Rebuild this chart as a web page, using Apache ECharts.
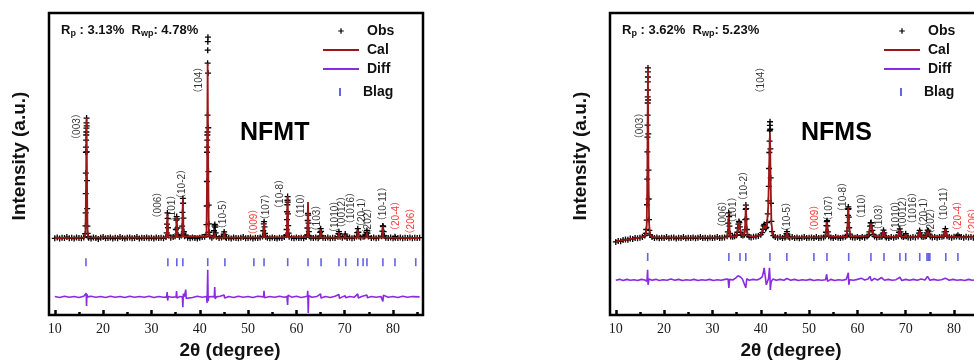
<!DOCTYPE html>
<html>
<head>
<meta charset="utf-8">
<script src="https://cdn.jsdelivr.net/npm/echarts@6/dist/echarts.min.js"></script>
<style>
  html, body { margin: 0; padding: 0; background: #fff; }
  #chart { width: 974px; height: 360px; }
</style>
</head>
<body>
<div id="chart"></div>
<script>
// ---- NFMT refinement, points are [2theta, intensity] ----
const nfmtObs = [
  [10,25.4],[10.5,25.7],[11,25.3],[11.5,25.6],[12,25.5],[12.5,25.8],[13,25.4],[13.5,25.6],[14,25.3],[14.5,25.7],[15,25.5],[15.5,25.4],[16,25.7],
  [16.3,26.9],[16.35,29.5],[16.38,33.8],[16.4,40.2],[16.42,47.0],[16.44,53.9],[16.46,55.6],[16.48,57.9],[16.5,59.6],[16.52,60.6],[16.54,61.9],[16.56,63.6],[16.58,65.2],[16.6,62.6],[16.63,54.0],[16.66,44.5],[16.7,35.2],[16.75,29.4],[16.8,27.0],[16.9,25.9],
  [17,25.6],[17.5,25.3],[18,25.7],[18.5,25.5],[19,25.2],[19.5,25.6],[20,25.8],[20.5,25.4],[21,25.5],[21.5,25.7],[22,25.3],[22.5,25.6],[23,25.4],[23.5,25.8],[24,25.5],[24.5,25.3],[25,25.6],[25.5,25.7],[26,25.4],[26.5,25.5],[27,25.8],[27.5,25.3],[28,25.6],[28.5,25.5],[29,25.7],[29.5,25.4],[30,25.6],[30.5,25.3],[31,25.7],[31.5,25.5],[32,25.6],[32.5,25.4],
  [33,25.8],[33.15,27.2],[33.22,30.1],[33.3,33.8],[33.36,32.0],[33.42,28.9],[33.55,26.4],[34,25.6],[34.5,25.8],
  [34.9,26.1],[35.05,28.3],[35.15,31.4],[35.22,32.6],[35.3,31.8],[35.38,28.8],[35.5,26.5],[35.8,25.9],
  [36.2,26.3],[36.35,29.4],[36.42,34.0],[36.5,38.6],[36.56,37.0],[36.62,32.1],[36.72,27.6],[36.85,26.1],
  [37.1,26.4],[37.5,25.6],[38,25.4],[38.5,25.7],[39,25.5],[39.5,25.3],[40,25.6],[40.5,25.8],[41,25.9],
  [41.3,26.6],[41.38,29.9],[41.44,36.1],[41.48,44.2],[41.51,53.9],[41.53,55.6],[41.55,57.9],[41.57,59.6],[41.59,60.6],[41.61,66.2],[41.63,83.4],[41.65,87.7],[41.67,90.5],[41.69,92.0],[41.72,80.1],[41.76,62.0],[41.8,47.5],[41.85,36.4],[41.9,30.2],[41.97,27.4],[42.1,26.0],[42.5,25.6],
  [42.85,26.1],[42.95,27.9],[43.05,29.5],[43.12,30.0],[43.2,29.1],[43.3,27.2],[43.45,25.9],[44,25.5],[44.5,25.7],
  [44.85,26.0],[44.95,26.8],[45.05,27.5],[45.15,26.6],[45.3,25.8],
  [45.5,25.5],[46,25.6],[46.5,25.3],[47,25.7],[47.5,25.5],[48,25.4],[48.5,25.6],[49,25.8],[49.5,25.4],[50,25.5],[50.5,25.7],[51,25.3],[51.5,25.6],[52,25.5],[52.5,25.7],
  [53.0,26.0],[53.15,27.9],[53.25,30.2],[53.32,30.9],[53.4,29.2],[53.5,27.0],[53.65,25.9],
  [54,25.6],[54.5,25.4],[55,25.7],[55.5,25.5],[56,25.3],[56.5,25.6],[57,25.5],[57.5,25.8],
  [57.9,26.4],[57.98,28.3],[58.04,31.6],[58.08,34.2],[58.12,36.5],[58.15,38.0],[58.18,39.2],[58.21,37.4],[58.25,33.5],[58.3,29.6],[58.38,27.1],[58.5,25.9],
  [59,25.6],[59.5,25.4],[60,25.7],[60.5,25.5],[61,25.6],[61.5,25.4],[62,25.8],
  [62.2,26.5],[62.28,28.8],[62.34,31.3],[62.4,33.6],[62.45,33.1],[62.5,30.4],[62.58,27.6],[62.7,26.1],
  [63,25.6],[63.5,25.5],[64,25.7],[64.5,25.4],
  [64.8,26.0],[64.92,27.4],[65.02,28.6],[65.12,27.7],[65.25,26.2],
  [65.5,25.6],[66,25.5],[66.5,25.7],[67,25.4],[67.5,25.6],[68,25.5],
  [68.6,25.9],[68.7,26.9],[68.8,27.6],[68.9,26.9],[69.05,25.9],[69.5,25.6],
  [69.95,26.0],[70.1,26.8],[70.25,26.0],[70.5,25.5],[71,25.7],[71.5,25.4],[72,25.6],
  [72.45,26.0],[72.58,27.3],[72.7,28.6],[72.82,27.4],[72.95,26.0],[73.3,25.7],[73.8,25.9],[74.1,26.0],
  [74.35,26.4],[74.5,27.3],[74.6,28.0],[74.72,27.1],[74.9,26.0],
  [75.5,25.5],[76,25.7],[76.5,25.4],[77,25.6],
  [77.65,26.1],[77.78,27.8],[77.88,29.5],[77.96,29.3],[78.06,27.6],[78.2,26.2],
  [78.5,25.6],[79,25.5],[79.5,25.7],[80,25.4],[80.4,25.9],[80.5,25.6],[81,25.5],[81.5,25.7],[82,25.4],[82.5,25.6],[83,25.5],[83.5,25.7],[84,25.4],[84.5,25.6],[85,25.5],[85.5,25.6]
];
const nfmtCal = [
  [10,25.5],[16.2,25.6],[16.35,27.5],[16.45,40.0],[16.58,65.2],[16.68,42.0],[16.77,27.8],[16.9,25.7],
  [33.1,25.6],[33.2,28.0],[33.3,33.8],[33.4,28.5],[33.5,25.7],[35.05,25.7],[35.22,32.5],[35.4,25.8],
  [36.35,25.9],[36.5,38.6],[36.65,26.0],[41.4,26.0],[41.52,48.0],[41.63,83.4],[41.74,50.0],[41.88,26.2],
  [42.95,25.6],[43.1,27.2],[43.25,25.6],[44.9,25.6],[45.05,27.3],[45.2,25.6],[53.15,25.7],[53.3,30.5],[53.45,25.7],
  [58.0,25.8],[58.18,39.4],[58.35,25.8],[62.25,25.8],[62.4,37.4],[62.55,25.8],[64.85,25.6],[65.02,28.4],[65.2,25.6],
  [68.65,25.6],[68.8,27.4],[68.95,25.6],[70.0,25.6],[70.1,26.6],[70.2,25.6],[72.55,25.6],[72.7,28.3],[72.85,25.6],
  [74.45,25.6],[74.6,27.8],[74.75,25.6],[77.75,25.6],[77.9,29.4],[78.05,25.6],[85.5,25.5]
];
const nfmtDiff = [
  [10,6.1],[11,5.8],[12,6.2],[13,5.9],[14,6.1],[15,5.8],[16,6.2],[16.4,6.0],[16.5,7.2],[16.57,3.0],[16.64,6.9],[16.8,6.0],
  [17.5,6.2],[18.5,5.9],[19.5,6.1],[20.5,5.8],[21.5,6.2],[22.5,5.9],[23.5,6.1],[24.5,5.8],[25.5,6.2],[26.5,5.9],[27.5,6.1],[28.5,5.9],[29.5,6.2],[30.5,5.8],[31.5,6.1],[32.5,5.9],
  [33.15,6.0],[33.25,7.6],[33.35,4.8],[33.5,6.1],[34.2,5.9],[35.1,6.0],[35.2,7.9],[35.3,5.6],[35.8,6.1],
  [36.4,6.0],[36.5,2.6],[36.6,7.0],[36.8,6.0],[37.0,6.1],[37.1,8.4],[37.2,5.5],[37.5,6.0],[38.5,5.8],[39.5,6.2],[40.5,5.9],
  [41.4,6.1],[41.52,4.0],[41.65,15.0],[41.74,4.6],[41.85,6.0],[42.5,6.1],[43.0,6.0],[43.1,9.3],[43.2,5.3],[43.4,6.0],
  [44.2,6.2],[45.05,6.6],[45.15,5.6],[46,6.1],[47,5.8],[48,6.2],[49,5.9],[50,6.1],[51,5.8],[52,6.2],
  [53.2,6.0],[53.3,8.0],[53.4,5.7],[54.5,6.1],[55.5,5.9],[56.5,6.2],[57.5,5.9],[58.05,6.1],[58.18,3.3],[58.28,6.6],
  [59,5.9],[60,6.2],[61,5.8],[62.25,6.2],[62.35,8.0],[62.45,0.7],[62.55,6.4],[63.2,5.9],[64.2,6.1],[65,7.0],[65.1,5.6],
  [66,6.1],[67,5.8],[68,6.2],[68.8,6.8],[68.9,5.5],[69.5,6.0],[70.1,6.4],[70.2,5.7],[71,6.1],[72,5.9],[72.7,7.0],[72.8,5.6],
  [73.5,6.1],[74.6,6.6],[74.7,5.7],[75.5,6.1],[76.5,5.9],[77.5,6.1],[77.9,4.5],[78.0,6.5],[79,5.9],[80,6.1],[81,5.8],[82,6.2],[83,5.9],[84,6.1],[85.5,6.0]
];
const nfmtBragg = [16.45, 33.4, 35.25, 36.5, 41.65, 45.2, 51.2, 53.3, 58.2, 62.4, 65.1, 68.8, 70.2, 72.7, 73.8, 74.6, 77.9, 80.4, 84.7];
const nfmtHkl = ['（003）','（104）','（006）','（101）','（10-2）','（10-5）','（009）','（107）','（10-8）','（110）','（103）','（1010）','（0012）','（1016）','（20-1）','（202）','（10-11）','（20-4）','（206）'];
const nfmtHklAt = [[14.6,62.4],[39.8,77.8],[31.5,36.4],[34.4,35.4],[36.3,43.4],[44.8,33.4],[51.2,30.8],[53.7,35.8],[56.6,40.1],[61.1,36.1],[64.4,32.1],[68.0,32.5],[69.4,34.1],[71.3,35.4],[73.6,34.1],[74.8,31.1],[77.9,36.8],[80.6,32.8],[83.7,31.1]];

// ---- NFMS refinement ----
const nfmsObs = [
  [10,24.2],[10.5,24.5],[11,24.4],[11.5,24.8],[12,25.0],[12.5,24.9],[13,25.3],[13.5,25.2],[14,25.5],[14.5,25.4],[15,25.6],[15.5,25.8],[16,26.3],
  [16.2,27.0],[16.3,28.3],[16.4,31.4],[16.45,36.5],[16.5,45.0],[16.53,54.0],[16.55,58.9],[16.57,62.9],[16.59,66.2],[16.6,70.2],[16.61,72.2],[16.62,74.5],[16.63,77.2],[16.64,78.8],[16.65,80.5],[16.66,81.8],[16.69,71.2],[16.72,60.0],[16.76,48.0],[16.8,38.4],[16.86,31.6],[16.95,28.0],[17.1,26.5],
  [17.5,25.8],[18,25.5],[18.5,25.7],[19,25.4],[19.5,25.6],[20,25.5],[20.5,25.8],[21,25.4],[21.5,25.6],[22,25.7],[22.5,25.3],[23,25.6],[23.5,25.5],[24,25.8],[24.5,25.4],[25,25.6],[25.5,25.5],[26,25.7],[26.5,25.4],[27,25.6],[27.5,25.8],[28,25.5],[28.5,25.6],[29,25.4],[29.5,25.7],[30,25.5],[30.5,25.6],[31,25.8],[31.5,25.5],[32,25.6],[32.5,25.7],
  [33.05,26.1],[33.18,27.5],[33.28,30.4],[33.38,33.8],[33.45,32.6],[33.52,29.4],[33.62,27.0],[33.78,26.0],[34.2,25.9],[34.6,26.1],
  [35.0,26.4],[35.15,27.4],[35.28,28.8],[35.38,30.1],[35.48,31.0],[35.58,30.6],[35.68,29.2],[35.8,27.4],[35.95,26.5],[36.3,26.3],
  [36.6,26.6],[36.7,28.2],[36.78,31.6],[36.86,35.0],[36.92,36.4],[36.98,35.2],[37.04,31.8],[37.12,28.3],[37.25,26.6],
  [37.6,25.9],[38,25.7],[38.5,25.9],[39,26.0],[39.5,26.2],[40,26.6],
  [40.3,27.3],[40.45,28.4],[40.6,29.5],[40.72,30.0],[40.85,29.4],[41.0,28.6],[41.15,29.0],[41.3,30.6],[41.45,33.5],[41.57,37.8],[41.65,42.6],[41.72,48.5],[41.78,53.8],[41.82,57.6],[41.86,61.0],[41.89,62.8],[41.92,64.0],[41.96,61.5],[42.0,55.0],[42.06,45.4],[42.12,37.0],[42.2,31.0],[42.35,27.6],[42.6,26.3],
  [43,25.8],[43.5,25.6],[44,25.8],[44.5,25.5],[45,25.7],
  [45.2,26.0],[45.32,26.9],[45.42,27.6],[45.52,26.8],[45.68,25.9],
  [46,25.6],[46.5,25.8],[47,25.5],[47.5,25.7],[48,25.4],[48.5,25.6],[49,25.8],[49.5,25.5],[50,25.6],[50.5,25.7],[51,25.5],[51.5,25.8],[52,25.5],[52.5,25.6],[53,25.7],
  [53.35,26.1],[53.48,27.4],[53.58,29.6],[53.66,30.9],[53.72,31.2],[53.8,29.5],[53.9,27.5],[54.05,26.1],
  [54.5,25.7],[55,25.5],[55.5,25.8],[56,25.6],[56.5,25.5],[57,25.7],[57.5,25.9],
  [57.8,26.3],[57.9,27.8],[57.98,30.6],[58.04,33.0],[58.08,35.0],[58.12,35.8],[58.16,35.2],[58.22,32.4],[58.3,28.9],[58.42,26.8],[58.58,25.9],
  [59,25.7],[59.5,25.6],[60,25.8],[60.5,25.5],[61,25.8],[61.5,25.6],[62,26.0],
  [62.3,26.4],[62.48,27.5],[62.62,29.4],[62.74,30.5],[62.84,30.6],[62.95,29.6],[63.1,28.0],[63.3,26.7],[63.55,26.0],
  [64,25.7],[64.5,25.8],[64.9,25.9],
  [65.12,26.0],[65.26,27.1],[65.4,28.1],[65.55,27.2],[65.75,26.0],
  [66,25.7],[66.5,25.5],[67,25.8],[67.5,25.6],[68,25.8],
  [68.45,26.1],[68.62,27.4],[68.78,28.5],[68.94,27.5],[69.15,26.1],[69.5,25.8],
  [69.85,26.1],[70.0,26.9],[70.15,26.1],[70.5,25.7],[71,25.6],[71.5,25.8],[72,25.7],
  [72.55,26.0],[72.72,27.1],[72.88,28.0],[73.04,27.2],[73.25,26.0],[73.6,25.8],[74,26.0],
  [74.25,26.2],[74.4,27.2],[74.55,28.1],[74.72,27.8],[74.9,26.8],[75.1,26.0],
  [75.5,25.7],[76,25.8],[76.5,25.6],[77,25.8],[77.5,25.9],
  [77.88,26.1],[78.04,27.5],[78.2,28.6],[78.35,27.6],[78.55,26.1],
  [79,25.8],[79.5,25.6],[80,25.9],[80.5,26.0],[80.8,26.4],[81.1,25.9],[81.5,25.8],[82,25.6],[82.5,25.9],[83,25.7],[83.5,25.8],[84,25.6],[84.5,25.9],[85,25.7],[85.5,25.8]
];
const nfmsCal = [
  [10,24.3],[11,24.6],[12,24.9],[13,25.2],[14,25.4],[15,25.6],[15.8,25.9],[16.2,26.6],[16.4,29.5],[16.52,45.0],[16.65,81.8],[16.77,46.0],[16.9,30.0],[17.1,26.6],[17.5,25.8],[20,25.6],
  [33.1,25.7],[33.25,28.2],[33.38,33.8],[33.52,28.5],[33.7,25.9],[35.0,26.1],[35.25,28.3],[35.48,30.8],[35.72,28.6],[36.0,26.5],
  [36.6,26.4],[36.78,30.0],[36.92,36.4],[37.06,30.2],[37.25,26.4],[38.5,25.9],[40.0,26.5],[40.4,28.0],[40.72,29.6],[41.0,28.5],
  [41.3,30.2],[41.55,36.0],[41.75,50.0],[41.9,60.3],[42.05,44.0],[42.2,30.5],[42.5,26.6],[43.2,25.8],
  [45.2,25.7],[45.42,27.4],[45.65,25.7],[53.4,25.8],[53.58,29.0],[53.7,30.8],[53.84,28.8],[54.05,26.0],
  [57.8,25.9],[57.98,30.5],[58.12,35.6],[58.26,30.6],[58.5,26.0],[62.3,26.2],[62.6,29.0],[62.8,30.3],[63.05,28.4],[63.45,26.2],
  [65.1,25.8],[65.4,27.9],[65.7,25.9],[68.45,25.9],[68.78,28.3],[69.1,26.0],[69.85,25.9],[70.0,26.7],[70.15,25.9],
  [72.6,25.8],[72.88,27.9],[73.2,25.9],[74.25,26.0],[74.55,28.0],[74.75,27.6],[75.05,26.0],[77.9,26.0],[78.2,28.4],[78.5,26.0],
  [80.6,25.8],[80.8,26.3],[81.0,25.8],[85.5,25.8]
];
const nfmsDiff = [
  [10,11.5],[10.8,11.8],[11.5,11.4],[12.3,11.8],[13,11.5],[13.8,11.7],[14.5,11.4],[15.3,11.8],[16.0,11.6],[16.45,11.2],[16.58,15.0],[16.68,10.0],[16.85,11.9],
  [17.5,11.5],[18.3,11.8],[19,11.4],[19.8,11.7],[20.6,11.5],[21.4,11.9],[22.2,11.5],[23,11.8],[23.8,11.4],[24.6,11.7],[25.4,11.5],[26.2,11.8],[27,11.4],[27.8,11.7],[28.6,11.5],[29.4,11.8],[30.2,11.4],[31,11.7],[31.8,11.5],[32.6,11.8],
  [33.25,11.9],[33.4,9.0],[33.55,11.8],[34.2,11.6],[34.8,12.2],[35.3,13.0],[35.55,13.5],[35.8,12.6],[36.2,11.9],[36.6,11.6],[36.9,9.0],[37.1,12.0],
  [37.6,11.5],[38.4,11.8],[39.2,11.6],[39.8,12.0],[40.3,12.6],[40.55,14.2],[40.7,15.6],[40.9,13.2],[41.15,10.0],[41.35,9.4],[41.6,12.0],[41.8,15.6],[41.9,13.0],[41.98,8.3],[42.15,11.0],[42.5,11.9],
  [43.2,11.5],[44,11.8],[44.8,11.5],[45.4,12.1],[46.2,11.5],[47,11.8],[47.8,11.4],[48.6,11.7],[49.4,11.5],[50.2,11.8],[51,11.4],[51.8,11.7],[52.6,11.5],
  [53.4,11.7],[53.65,13.5],[53.8,11.2],[54.5,11.8],[55.3,11.4],[56.1,11.7],[56.9,11.5],[57.7,11.8],[58.05,11.5],[58.12,14.0],[58.22,10.0],[58.4,11.7],
  [59.2,11.5],[60,11.8],[60.8,12.2],[61.5,11.6],[62.2,11.9],[62.6,12.8],[62.9,11.3],[63.5,12.1],[64.2,11.6],[65,12.4],[65.6,11.5],[66.4,11.8],[67.2,11.5],[68,11.7],
  [68.8,12.5],[69.2,11.4],[70,11.8],[70.8,11.5],[71.6,11.8],[72.4,11.5],[73.2,11.9],[74,11.6],[74.5,12.8],[75,11.5],[75.8,11.8],[76.6,11.5],[77.4,11.7],[78.2,12.2],
  [79,11.5],[79.8,11.8],[80.6,11.5],[81.4,11.7],[82.2,11.4],[83,11.8],[83.8,11.5],[84.6,11.7],[85.5,11.6]
];
const nfmsBragg = [16.6, 33.4, 35.7, 36.9, 41.9, 45.4, 51.0, 53.7, 58.2, 62.8, 65.5, 68.8, 70.0, 72.9, 74.4, 74.7, 75.0, 78.3, 80.8, 84.8];
const nfmsHkl = nfmtHkl;
const nfmsHklAt = [[15.0,62.6],[40.0,77.8],[32.2,33.4],[34.4,34.8],[36.5,42.7],[45.4,32.5],[51.2,32.1],[54.1,35.4],[57.0,39.1],[61.1,36.1],[64.5,32.5],[68.0,32.5],[69.4,34.1],[71.5,35.4],[73.8,34.1],[75.2,31.1],[77.9,36.8],[80.8,32.8],[83.9,31.1]];

const majorTicks = [10, 20, 30, 40, 50, 60, 70, 80];
const minorTicks = [15, 25, 35, 45, 55, 65, 75, 85];
const redHkl = ['（009）', '（20-4）', '（206）'];

const panels = [
  { tag: 'NFMT', rp: '3.13%', rwp: '4.78%', left: 49, obs: nfmtObs, cal: nfmtCal, diff: nfmtDiff, bragg: nfmtBragg, braggAt: 17.5, hkl: nfmtHkl, hklAt: nfmtHklAt },
  { tag: 'NFMS', rp: '3.62%', rwp: '5.23%', left: 610, obs: nfmsObs, cal: nfmsCal, diff: nfmsDiff, bragg: nfmsBragg, braggAt: 19.2, hkl: nfmsHkl, hklAt: nfmsHklAt }
];

const SANS = '"Liberation Sans", Arial, sans-serif';
const PLUS = 'path://M3.9,0H6.1V10H3.9Z M0,3.9H10V6.1H0Z';
const GRID_W = 374, GRID_H = 302, GRID_TOP = 13;
const X_MIN = 8.8, X_MAX = 86.2;

const grid = [], xAxis = [], yAxis = [], series = [], legend = [], title = [];

panels.forEach((p, i) => {
  grid.push({
    left: p.left, top: GRID_TOP, width: GRID_W, height: GRID_H, outerBoundsMode: 'none',
    show: true, borderColor: '#000', borderWidth: 2.5, backgroundColor: 'transparent'
  });

  xAxis.push({
    type: 'value', gridIndex: i, min: X_MIN, max: X_MAX,
    axisLine: { show: false }, splitLine: { show: false },
    axisTick: { inside: true, length: 5, customValues: majorTicks, lineStyle: { color: '#000', width: 2.5 } },
    axisLabel: { customValues: majorTicks, fontFamily: '"Liberation Serif", serif', fontSize: 14, color: '#1a1a1a', margin: 7 },
    name: '2θ (degree)', nameLocation: 'middle', nameGap: 21,
    nameTextStyle: { fontFamily: SANS, fontSize: 19, fontWeight: 'bold', color: '#111', padding: [0, 12, 0, 0] }
  });
  // minor ticks, drawn from a second axis moved onto the bottom edge
  xAxis.push({
    type: 'value', gridIndex: i, min: X_MIN, max: X_MAX, position: 'top', offset: -GRID_H,
    axisLine: { show: false }, splitLine: { show: false }, axisLabel: { show: false },
    axisTick: { inside: false, length: 3, customValues: minorTicks, lineStyle: { color: '#000', width: 2.5 } }
  });
  yAxis.push({
    type: 'value', gridIndex: i, min: 0, max: 100,
    axisLine: { show: false }, axisTick: { show: false }, axisLabel: { show: false }, splitLine: { show: false },
    name: 'Intensity (a.u.)', nameLocation: 'middle', nameGap: 20,
    nameTextStyle: { fontFamily: SANS, fontSize: 19, fontWeight: 'bold', color: '#111', padding: [0, 0, 0, 16] }
  });

  const xi = i * 2;
  series.push({
    type: 'line', name: 'Obs', xAxisIndex: xi, yAxisIndex: i, data: p.obs,
    symbol: PLUS, symbolSize: 6, showSymbol: true, showAllSymbol: true,
    lineStyle: { opacity: 0 }, itemStyle: { color: '#000' }, silent: true, z: 2
  });
  series.push({
    type: 'line', name: 'Cal', xAxisIndex: xi, yAxisIndex: i, data: p.cal,
    symbol: 'none', lineStyle: { color: '#9b1616', width: 1.8 }, itemStyle: { color: '#9b1616' }, silent: true, z: 3
  });
  series.push({
    type: 'line', name: 'Diff', xAxisIndex: xi, yAxisIndex: i, data: p.diff,
    symbol: 'none', lineStyle: { color: '#8a2be2', width: 1.6 }, itemStyle: { color: '#8a2be2' }, silent: true, z: 3
  });
  series.push({
    type: 'scatter', name: 'Blag', xAxisIndex: xi, yAxisIndex: i,
    data: p.bragg.map(t => [t, p.braggAt]),
    symbol: 'rect', symbolSize: [1.6, 8], itemStyle: { color: '#3c3cdc' }, silent: true, z: 3
  });
  series.push({
    type: 'scatter', xAxisIndex: xi, yAxisIndex: i, symbolSize: 1, silent: true, z: 4,
    itemStyle: { color: 'transparent' },
    data: p.hkl.map((h, k) => ({ name: h, value: p.hklAt[k], label: { color: redHkl.includes(h) ? '#ff0000' : '#000' } })),
    label: { show: true, position: 'inside', rotate: 90, formatter: '{b}', fontSize: 10, fontFamily: '"Liberation Sans", "Noto Sans CJK SC", sans-serif' }
  });

  legend.push({
    left: p.left + 273, top: 24, orient: 'vertical', padding: 0, itemGap: 5,
    itemWidth: 36, itemHeight: 7, selectedMode: false,
    data: [{ name: 'Obs' }, { name: 'Cal', itemStyle: { opacity: 0 } }, { name: 'Diff', itemStyle: { opacity: 0 } }],
    textStyle: { fontFamily: SANS, fontSize: 14, fontWeight: 'bold', color: '#111', padding: [0, 0, 0, 3] }
  });
  legend.push({
    left: p.left + 290, top: 85, padding: 0, itemWidth: 2, itemHeight: 8, selectedMode: false,
    data: ['Blag'],
    textStyle: { fontFamily: SANS, fontSize: 14, fontWeight: 'bold', color: '#111', padding: [0, 0, 0, 17] }
  });

  title.push({
    left: p.left + 12, top: 22, padding: 0,
    text: '{m|R}{s|p}{m| : ' + p.rp + '  R}{s|wp}{m|: ' + p.rwp + '}',
    textStyle: {
      rich: {
        m: { fontFamily: SANS, fontSize: 13, fontWeight: 'bold', color: '#111', lineHeight: 16 },
        s: { fontFamily: SANS, fontSize: 9, fontWeight: 'bold', color: '#111', lineHeight: 9, verticalAlign: 'bottom' }
      }
    }
  });
  title.push({
    left: p.left + 191, top: 121, padding: 0, text: p.tag,
    textStyle: { fontFamily: SANS, fontSize: 25, fontWeight: 'bold', color: '#000' }
  });
});

const chart = echarts.init(document.getElementById('chart'), null, { renderer: 'canvas' });
chart.setOption({
  backgroundColor: '#fff',
  animation: false,
  title, legend, grid, xAxis, yAxis, series
});
</script>
</body>
</html>
